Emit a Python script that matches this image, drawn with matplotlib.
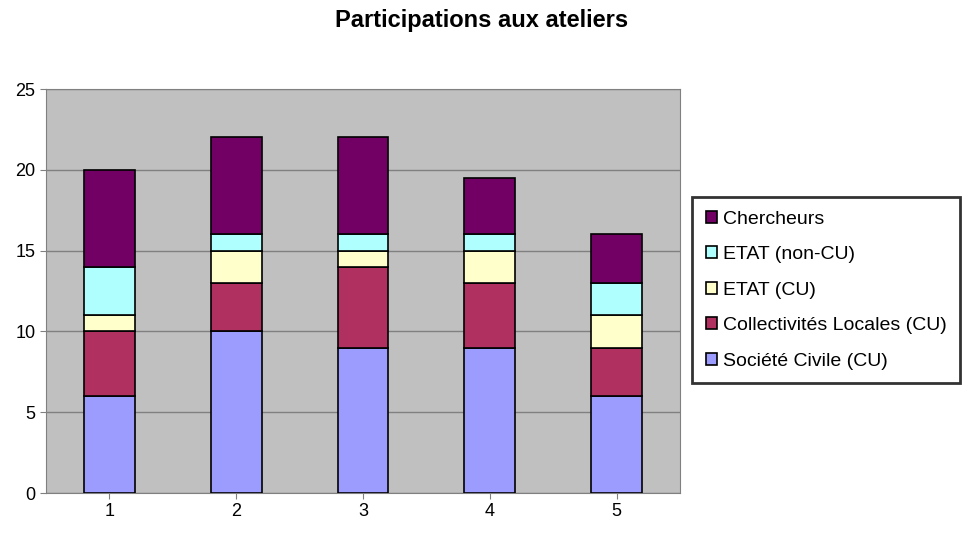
import numpy as np
import matplotlib.pyplot as plt

ateliers = ["1", "2", "3", "4", "5"]
societe_civile = [6, 10, 9, 9, 6]
collectivites = [4, 3, 5, 4, 3]
etat_cu = [1, 2, 1, 2, 2]
etat_non_cu = [3, 1, 1, 1, 2]
chercheurs = [6, 6, 6, 3.5, 3]

series = [
    ("Société Civile (CU)", societe_civile, "#9c9cff"),
    ("Collectivités Locales (CU)", collectivites, "#b03060"),
    ("ETAT (CU)", etat_cu, "#ffffcc"),
    ("ETAT (non-CU)", etat_non_cu, "#b0ffff"),
    ("Chercheurs", chercheurs, "#720064"),
]

plt.rcParams["font.family"] = ["Liberation Sans", "DejaVu Sans"]

fig = plt.figure(figsize=(9.63, 5.33), dpi=100)
ax = fig.add_axes([46 / 963, 1 - 493 / 533, 634 / 963, 404 / 533])
ax.set_facecolor("#c0c0c0")

x = np.arange(1, len(ateliers) + 1)
bottom = np.zeros(len(ateliers))
handles = []
for nom, vals, couleur in series:
    b = ax.bar(x, vals, 0.4, bottom=bottom, color=couleur, edgecolor="black",
               linewidth=1.2, label=nom, zorder=3)
    handles.append(b)
    bottom += np.array(vals)

ax.set_xlim(0.5, 5.5)
ax.set_ylim(0, 25)
ax.set_yticks(range(0, 26, 5))
ax.set_xticks(x)
ax.set_xticklabels(ateliers)
ax.yaxis.grid(True, color="#808080", linewidth=1, zorder=1)
for s in ax.spines.values():
    s.set_color("#808080")
ax.tick_params(labelsize=13, colors="#808080", labelcolor="black", length=4)

fig.text(0.5, 1 - 20 / 533, "Participations aux ateliers", ha="center", va="center",
         fontsize=17, fontweight="bold")

leg = fig.legend(handles[::-1], [s[0] for s in series][::-1],
                 loc="upper left", bbox_to_anchor=(692 / 963, 1 - 197 / 533),
                 borderaxespad=0, fontsize=14, frameon=True, fancybox=False,
                 handlelength=0.6, handleheight=0.6, labelspacing=0.95,
                 borderpad=0.7, handletextpad=0.3)
leg.get_frame().set_edgecolor("black")
leg.get_frame().set_linewidth(2)

fig.savefig("out.png", dpi=100)
